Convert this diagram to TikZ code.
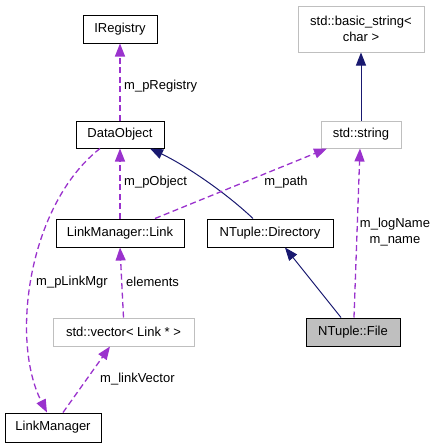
\documentclass[tikz,border=0pt]{standalone}
\usepackage{fontspec}
\setmainfont{Liberation Sans}
\usetikzlibrary{arrows.meta}
\definecolor{member}{HTML}{9A32CD}
\definecolor{base}{HTML}{191970}
\definecolor{extgray}{HTML}{BFBFBF}
\tikzset{
    class-box/.style = {draw=black, fill=white, line width=1pt, rectangle, inner sep=2pt, minimum height=28pt, align=center},
    std-box/.style = {class-box, draw=extgray},
    self-box/.style = {class-box, fill=extgray},
    member-edge/.style = {draw=member, line width=1.3pt, dash pattern=on 6pt off 3.5pt, -{Triangle[length=13pt,width=10pt]}},
    base-edge/.style = {draw=base, line width=1pt, -{Triangle[length=13pt,width=10pt]}},
    edge-label/.style = {inner sep=0pt, align=center},
}

\begin{document}
\begin{tikzpicture}[x=1pt, y=-1pt, font=\fontsize{13}{16}\selectfont]
\useasboundingbox (0,0) rectangle (437,448);
\node [class-box, minimum width=74pt] (registry) at (120,29) {IRegistry};
\node [class-box, minimum width=88pt, minimum height=27pt] (dataobj) at (120,134.5) {DataObject};
\node [std-box, minimum width=126pt, minimum height=46pt] (basicstr) at (361,29) {std::basic\_string<\\char >};
\node [std-box, minimum width=80pt, minimum height=27pt] (stdstr) at (361,134.5) {std::string};
\node [class-box, minimum width=128pt] (link) at (120,233) {LinkManager::Link};
\node [class-box, minimum width=126pt] (directory) at (270,233) {NTuple::Directory};
\node [std-box, minimum width=141pt] (vector) at (123.5,332) {std::vector< Link * >};
\node [self-box, minimum width=94pt] (file) at (353,332) {NTuple::File};
\node [class-box, minimum width=96pt, minimum height=29pt] (linkmgr) at (53,427.5) {LinkManager};

\draw [member-edge] (dataobj.north) -- (registry.south);
\draw [member-edge] (link.north) -- (dataobj.south);
\draw [base-edge] (stdstr.north) -- (basicstr.south);
\draw [base-edge] ([xshift=-17pt]directory.north) .. controls (225,192) and (185,165) .. ([xshift=30pt]dataobj.south);
\draw [member-edge] ([xshift=35pt]link.north) -- ([xshift=-34pt]stdstr.south);
\draw [member-edge] ([xshift=1pt]file.north) -- ([xshift=-1pt]stdstr.south);
\draw [base-edge] ([xshift=-12pt]file.north) -- ([xshift=15pt]directory.south);
\draw [member-edge] ([xshift=-20pt]dataobj.south) .. controls (28,205) and (10,340) .. ([xshift=-6pt]linkmgr.north);
\draw [member-edge] ([xshift=10pt]linkmgr.north) -- ([xshift=-13.5pt]vector.south);
\draw [member-edge] (vector.north) -- (link.south);

% member names
\node [edge-label, anchor=west] (lbl-registry) at (124,86) {m\_pRegistry};
\node [edge-label, anchor=west] (lbl-object) at (124,182) {m\_pObject};
\node [edge-label] (lbl-path) at (286,182) {m\_path};
\node [edge-label] (lbl-name) at (395,232) {m\_logName\\m\_name};
\node [edge-label, anchor=west] (lbl-elements) at (126,282) {elements};
\node [edge-label, anchor=west] (lbl-linkmgr) at (36,282) {m\_pLinkMgr};
\node [edge-label, anchor=west] (lbl-vector) at (100,379) {m\_linkVector};
\end{tikzpicture}
\end{document}
